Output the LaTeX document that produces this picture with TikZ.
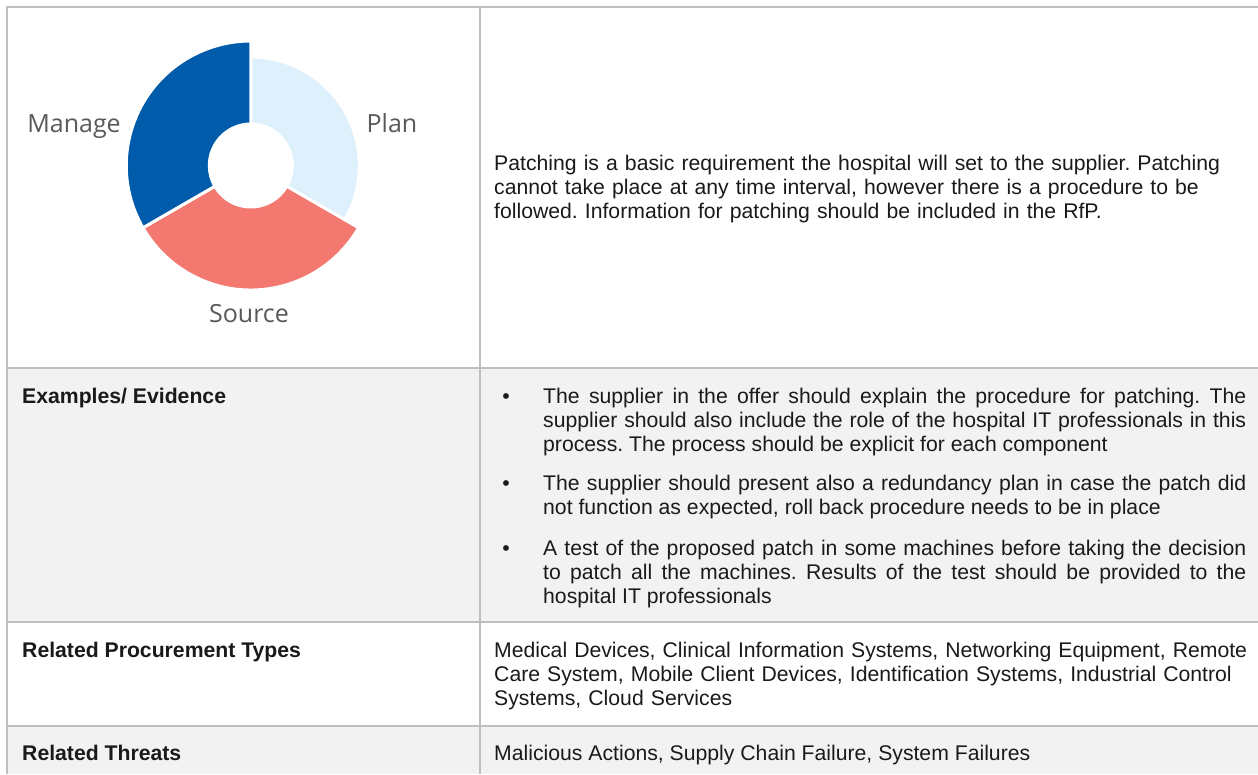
\documentclass[tikz,border=0pt]{standalone}
\usepackage{fontspec}
\setmainfont{Liberation Sans}
\newfontfamily\donutfont{Open Sans}
\frenchspacing
\hyphenpenalty=10000

\definecolor{linec}{HTML}{BFBFBF}
\definecolor{shadec}{HTML}{F2F2F2}
\definecolor{managec}{HTML}{005BAA}
\definecolor{planc}{HTML}{DDF0FB}
\definecolor{sourcec}{HTML}{F27870}
\definecolor{labc}{HTML}{595959}
\definecolor{textc}{HTML}{1A1A1A}

\tikzset{
  cell/.style={inner sep=0pt, anchor=base west, text=textc, font=\fontsize{21.2}{24}\selectfont},
  head/.style={cell, font=\fontsize{21.2}{24}\selectfont\bfseries},
  ring/.style={inner sep=0pt, anchor=base, text=labc, font=\donutfont\fontsize{25}{30}\selectfont},
  rule/.style={draw=linec, line width=2pt},
}

\begin{document}
\begin{tikzpicture}[x=1pt,y=1pt]
    \useasboundingbox (0,0) rectangle (1258,-774);
    \fill[white] (0,0) rectangle (1258,-774);
    \fill[shadec] (7,-368) rectangle (1258,-622);
    \fill[shadec] (7,-726) rectangle (1258,-774);

    % table rules
    \draw[rule] (7,-774) -- (7,-7) -- (1258,-7);
    \draw[rule] (480,-7) -- (480,-774);
    \foreach \y in {368,622,726}{
        \draw[rule] (7,-\y) -- (1258,-\y);
    }

    % donut
    \begin{scope}[shift={(250.8,-165.5)}]
        \foreach \a/\b/\r/\c in {90/-30/108.5/planc, -30/-150/124.5/sourcec, 210/90/124.5/managec}{
            \filldraw[fill=\c, draw=white, line width=3pt, line join=round]
                (\a:\r) arc[start angle=\a, end angle=\b, radius=\r]
                -- (\b:41.5) arc[start angle=\b, end angle=\a, radius=41.5] -- cycle;
        }
    \end{scope}
    \node[ring] (manage) at (74,-132) {Manage};
    \node[ring] (plan) at (392,-132) {Plan};
    \node[ring] (source) at (249,-322) {Source};

    \node[cell, text width=800pt, align=left] (intro) at (494,-170)
        {Patching is a basic requirement the hospital will set to the supplier. Patching\\
         cannot take place at any time interval, however there is a procedure to be\\
         followed. Information for patching should be included in the RfP.};

    % rows
    \node[head] (examples) at (22,-403) {Examples/ Evidence};
    \node[head] (types) at (22,-657) {Related Procurement Types};
    \node[head] (threats) at (22,-760) {Related Threats};

    \foreach \y in {403,490,555}{
        \node[cell, anchor=base] (dot\y) at (506,-\y) {\textbullet};
    }
    \node[cell, text width=703pt, align=justify] (item1) at (543,-403)
        {The supplier in the offer should explain the procedure for patching. The\linebreak
         supplier should also include the role of the hospital IT professionals in this\linebreak
         process. The process should be explicit for each component};
    \node[cell, text width=703pt, align=justify] (item2) at (543,-490)
        {The supplier should present also a redundancy plan in case the patch did\linebreak
         not function as expected, roll back procedure needs to be in place};
    \node[cell, text width=703pt, align=justify] (item3) at (543,-555)
        {A test of the proposed patch in some machines before taking the decision\linebreak
         to patch all the machines. Results of the test should be provided to the\linebreak
         hospital IT professionals};

    \node[cell, text width=800pt, align=left] (typelist) at (494,-657)
        {Medical Devices, Clinical Information Systems, Networking Equipment, Remote\\
         Care System, Mobile Client Devices, Identification Systems, Industrial Control\\
         Systems, Cloud Services};
    \node[cell] (threatlist) at (494,-760) {Malicious Actions, Supply Chain Failure, System Failures};
\end{tikzpicture}
\end{document}
